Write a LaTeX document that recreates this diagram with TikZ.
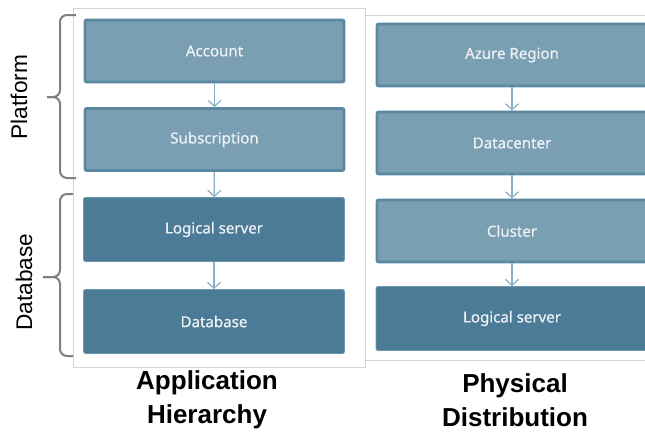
\documentclass[tikz,border=0pt]{standalone}
\usepackage{fontspec}
\setmainfont{Liberation Sans}
\newfontfamily\boxfont[FakeBold=0.6]{Noto Sans}
\usetikzlibrary{arrows.meta}
\definecolor{lightfill}{HTML}{7A9EB2}
\definecolor{lightedge}{HTML}{5B88A1}
\definecolor{darkfill}{HTML}{4B7B97}
\definecolor{darkedge}{HTML}{6E98AF}
\definecolor{arrowcol}{HTML}{8AB0C5}
\definecolor{framecol}{HTML}{D4D4D4}
\definecolor{bracecol}{HTML}{7F7F7F}
\definecolor{boxtext}{HTML}{EEF2F5}
\tikzset{
  lightbox/.style={draw=lightedge, line width=2.2pt, fill=lightfill, rounded corners=1.5pt,
    minimum height=46.5pt, text=boxtext, font=\boxfont\fontsize{11.3}{13}\selectfont, inner sep=0pt},
  darkbox/.style={draw=darkedge, line width=0.6pt, fill=darkfill, rounded corners=1.5pt,
    minimum height=48pt, text=boxtext, font=\boxfont\fontsize{11.3}{13}\selectfont, inner sep=0pt},
  flow/.style={draw=arrowcol, line width=0.9pt, -{Straight Barb[length=4.5pt,width=9.75pt]}},
  bracket/.style={draw=bracecol, line width=1.5pt, rounded corners=5.25pt},
  sidelabel/.style={font=\fontsize{17}{20}\selectfont, rotate=90, text=black},
  title/.style={font=\bfseries\fontsize{19.5}{25.5}\selectfont, align=center, text=black},
}
\begin{document}
\begin{tikzpicture}[x=0.75pt, y=-0.75pt]
\clip (0,0) rectangle (645,432);
\fill[white] (0,0) rectangle (645,432);
% frames
\draw[framecol, line width=0.6pt] (73,8) rectangle (365,367);
\draw[framecol, line width=0.6pt] (365,15) -- (650,15);
\draw[framecol, line width=0.6pt] (365,360) -- (650,360);
% left column
\node[lightbox, minimum width=194.25pt] (acc) at (214.5,51) {Account};
\node[lightbox, minimum width=194.25pt] (sub) at (214.5,139.5) {Subscription};
\node[darkbox, minimum width=195.75pt] (ls) at (214,229.5) {Logical server};
\node[darkbox, minimum width=195.75pt] (db) at (214,321.5) {Database};
% right column
\node[lightbox, minimum width=202.5pt] (az) at (512,55) {Azure Region};
\node[lightbox, minimum width=202.5pt] (dc) at (512,143) {Datacenter};
\node[lightbox, minimum width=202.5pt] (cl) at (512,231) {Cluster};
\node[darkbox, minimum width=204pt] (pls) at (512,318.5) {Logical server};
% arrows
\draw[flow] (acc) -- (sub);
\draw[flow] (sub) -- (ls);
\draw[flow] (ls) -- (db);
\draw[flow] (az) -- (dc);
\draw[flow] (dc) -- (cl);
\draw[flow] (cl) -- (pls);
% braces
\coordinate (pt) at (76,15);
\coordinate (ptip) at (47,97);
\coordinate (pb) at (76,178);
\draw[bracket] (pt) -- (60,15) -- (60,97) -- (ptip);
\draw[bracket] (ptip) -- (60,97) -- (60,178) -- (pb);
\coordinate (dt) at (73,194);
\coordinate (dtip) at (43,277);
\coordinate (dbm) at (73,356);
\draw[bracket] (dt) -- (60,194) -- (60,277) -- (dtip);
\draw[bracket] (dtip) -- (60,277) -- (60,356) -- (dbm);
% side labels
\node[sidelabel] (plat) at (19,97) {Platform};
\node[sidelabel] (dbl) at (24,282) {Database};
% titles
\node[title] (t1) at (207,400) {Application\\Hierarchy};
\node[title] (t2) at (515,400) {Physical\\Distribution};
\end{tikzpicture}
\end{document}
